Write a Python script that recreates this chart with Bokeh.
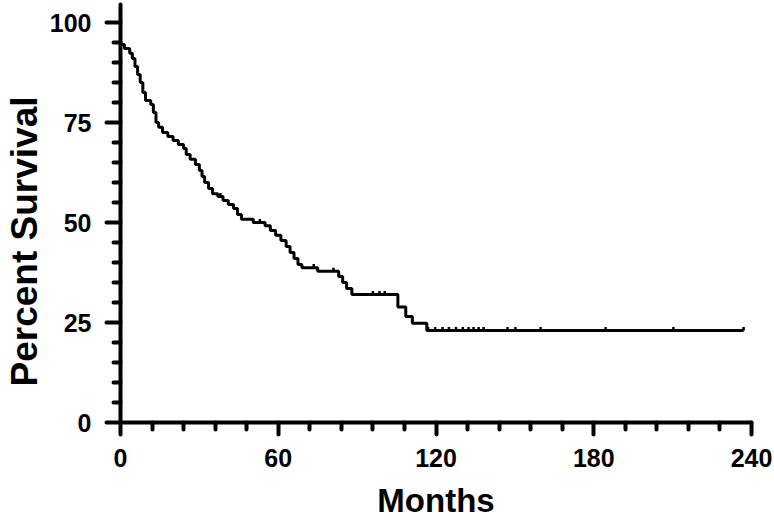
import numpy as np
from bokeh.plotting import figure
from bokeh.models import FixedTicker, Title
from bokeh.embed import file_html
from bokeh.resources import INLINE

# Kaplan-Meier step data (months, percent survival after each step)
event_months = [0, 1.5, 3.5, 4.5, 5.5, 6.5, 7.5, 8.5, 9.5, 11.5, 12.5, 13.5, 14.5,
                16, 18, 20, 22, 24, 25, 26.5, 28.5, 30, 31, 32, 33.5, 35, 37, 39,
                41, 43, 44.5, 46, 50.5, 55, 57, 59, 61, 63, 64.5, 66, 67.5, 69,
                75, 83, 84.5, 86, 88, 105.5, 108.5, 111, 116.5, 237]
survival = [94.5, 93.5, 92.3, 91.0, 89.0, 87.0, 85.0, 82.5, 80.5, 79.5, 77.5, 75.0, 73.8,
            72.5, 71.5, 70.5, 69.5, 68.5, 67.0, 65.8, 64.5, 63.0, 61.5, 60.0, 58.5, 57.2, 56.5, 55.5,
            54.5, 53.5, 52.0, 50.8, 50.0, 49.2, 48.0, 46.8, 45.5, 44.0, 42.5, 41.0, 39.5, 38.7,
            37.8, 36.5, 35.0, 33.5, 32.0, 28.9, 26.5, 24.8, 23.0, 23.0]
censor_months = [38, 53, 73.5, 81, 96, 98.5, 100.5, 117, 119.7, 122.5, 124.9, 127.6,
                 130.2, 132.4, 134.3, 136.2, 138.1, 147.2, 150.2, 159.8, 184.5, 210.3, 237]

x_ticks = [0, 60, 120, 180, 240]
x_minor = [12, 24, 36, 48, 72, 84, 96, 108, 132, 144, 156, 168, 192, 204, 216, 228]
y_ticks = [0, 25, 50, 75, 100]
y_minor = [5, 10, 15, 20, 30, 35, 40, 45, 55, 60, 65, 70, 80, 85, 90, 95]

p = figure(width=772, height=521, x_range=(0, 240), y_range=(0, 104.5),
           output_backend="svg", toolbar_location=None,
           min_border_left=120, min_border_right=21, min_border_top=4, min_border_bottom=98)
p.outline_line_color = None
p.xgrid.visible = False
p.ygrid.visible = False
p.background_fill_color = "white"

p.step(event_months, survival, mode="after", line_width=3, line_color="black")

em = np.array(event_months)
sv = np.array(survival)
idx = np.searchsorted(em, np.array(censor_months), side="right") - 1
cy = sv[idx]
p.segment(x0=censor_months, y0=cy, x1=censor_months, y1=cy + 0.9,
          line_width=2.5, line_color="black")

for ax, ticks, minor, mo, mi in ((p.xaxis[0], x_ticks, x_minor, 12, 7),
                                 (p.yaxis[0], y_ticks, y_minor, 14, 7)):
    ax.ticker = FixedTicker(ticks=ticks, minor_ticks=minor)
    ax.axis_line_width = 4
    ax.axis_line_color = "black"
    ax.axis_line_cap = "round"
    ax.major_tick_line_width = 4
    ax.major_tick_line_cap = "round"
    ax.minor_tick_line_width = 4
    ax.minor_tick_line_cap = "round"
    ax.major_tick_out = mo
    ax.major_tick_in = 0
    ax.minor_tick_out = mi
    ax.minor_tick_in = 0
    ax.major_label_text_font = "Liberation Sans"
    ax.major_label_text_font_style = "bold"
    ax.major_label_text_font_size = "25px"
    ax.major_label_text_color = "black"
    ax.axis_label_text_font = "Liberation Sans"
    ax.axis_label_text_font_style = "bold"
    ax.axis_label_text_color = "black"

p.xaxis.axis_label = "Months"
p.xaxis.axis_label_text_font_size = "33px"
p.xaxis.axis_label_text_line_height = 0.8
p.xaxis.major_label_standoff = 14
p.xaxis.axis_label_standoff = 12
p.yaxis.major_label_standoff = 15

ytitle = Title(text="Percent Survival", align="left", offset=36,
               text_font="Liberation Sans", text_font_style="bold",
               text_font_size="37px", text_color="black", standoff=3)
p.add_layout(ytitle, "left")

open("out.html", "w").write(file_html(p, INLINE))
